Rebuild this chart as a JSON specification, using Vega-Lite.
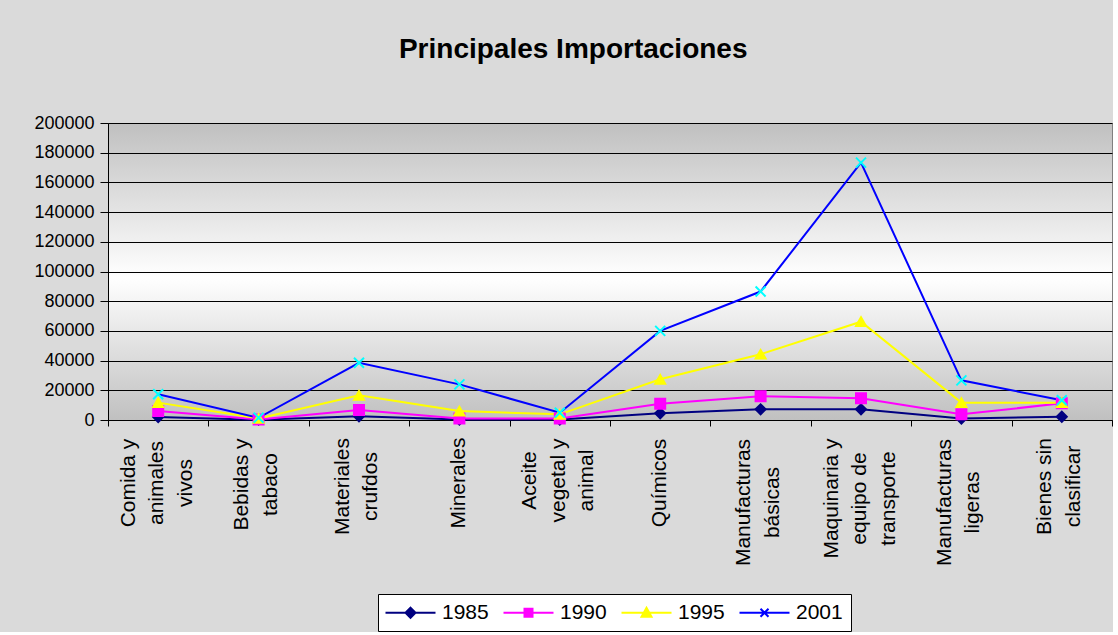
{
  "$schema": "https://vega.github.io/schema/vega-lite/v6.json",
  "width": 1004,
  "height": 297,
  "padding": {"left": 33, "top": 36, "right": 0, "bottom": 0},
  "background": "#dadada",
  "title": {
    "text": "Principales Importaciones",
    "font": "Liberation Sans",
    "fontSize": 28,
    "fontWeight": "bold",
    "color": "#000000",
    "anchor": "middle",
    "frame": "bounds",
    "offset": 50
  },
  "config": {
    "view": {
      "stroke": "#808080",
      "fill": {
        "gradient": "linear",
        "x1": 0, "y1": 0, "x2": 0, "y2": 1,
        "stops": [
          {"offset": 0, "color": "#c0c0c0"},
          {"offset": 0.52, "color": "#ffffff"},
          {"offset": 1, "color": "#c0c0c0"}
        ]
      }
    },
    "axis": {
      "labelFont": "Liberation Sans",
      "labelColor": "#000000",
      "domainColor": "#000000",
      "tickColor": "#000000",
      "gridColor": "#000000",
      "gridOpacity": 1,
      "title": null
    },
    "legend": {
      "labelFont": "Liberation Sans"
    }
  },
  "data": {
    "values": [
      {"cat": "Comida y animales vivos", "year": "1985", "value": 2000},
      {"cat": "Bebidas y tabaco", "year": "1985", "value": 200},
      {"cat": "Materiales crufdos", "year": "1985", "value": 2500},
      {"cat": "Minerales", "year": "1985", "value": 300},
      {"cat": "Aceite vegetal y animal", "year": "1985", "value": 300},
      {"cat": "Químicos", "year": "1985", "value": 4500},
      {"cat": "Manufacturas básicas", "year": "1985", "value": 7200},
      {"cat": "Maquinaria y equipo de transporte", "year": "1985", "value": 7200},
      {"cat": "Manufacturas ligeras", "year": "1985", "value": 1000},
      {"cat": "Bienes sin clasificar", "year": "1985", "value": 2200},
      {"cat": "Comida y animales vivos", "year": "1990", "value": 6000},
      {"cat": "Bebidas y tabaco", "year": "1990", "value": 400},
      {"cat": "Materiales crufdos", "year": "1990", "value": 6700},
      {"cat": "Minerales", "year": "1990", "value": 1000},
      {"cat": "Aceite vegetal y animal", "year": "1990", "value": 1000},
      {"cat": "Químicos", "year": "1990", "value": 11000},
      {"cat": "Manufacturas básicas", "year": "1990", "value": 16000},
      {"cat": "Maquinaria y equipo de transporte", "year": "1990", "value": 14600},
      {"cat": "Manufacturas ligeras", "year": "1990", "value": 3800},
      {"cat": "Bienes sin clasificar", "year": "1990", "value": 11200},
      {"cat": "Comida y animales vivos", "year": "1995", "value": 11700},
      {"cat": "Bebidas y tabaco", "year": "1995", "value": 1000},
      {"cat": "Materiales crufdos", "year": "1995", "value": 16600},
      {"cat": "Minerales", "year": "1995", "value": 6000},
      {"cat": "Aceite vegetal y animal", "year": "1995", "value": 3800},
      {"cat": "Químicos", "year": "1995", "value": 27400},
      {"cat": "Manufacturas básicas", "year": "1995", "value": 44300},
      {"cat": "Maquinaria y equipo de transporte", "year": "1995", "value": 66200},
      {"cat": "Manufacturas ligeras", "year": "1995", "value": 11700},
      {"cat": "Bienes sin clasificar", "year": "1995", "value": 11700},
      {"cat": "Comida y animales vivos", "year": "2001", "value": 17300},
      {"cat": "Bebidas y tabaco", "year": "2001", "value": 1500},
      {"cat": "Materiales crufdos", "year": "2001", "value": 38500},
      {"cat": "Minerales", "year": "2001", "value": 24000},
      {"cat": "Aceite vegetal y animal", "year": "2001", "value": 4900},
      {"cat": "Químicos", "year": "2001", "value": 60000},
      {"cat": "Manufacturas básicas", "year": "2001", "value": 86500},
      {"cat": "Maquinaria y equipo de transporte", "year": "2001", "value": 173300},
      {"cat": "Manufacturas ligeras", "year": "2001", "value": 26700},
      {"cat": "Bienes sin clasificar", "year": "2001", "value": 13300}
    ]
  },
  "encoding": {
    "x": {
      "field": "cat",
      "type": "nominal",
      "sort": null,
      "scale": {"type": "band", "paddingInner": 0, "paddingOuter": 0},
      "axis": {
        "labelAngle": -90,
        "labelAlign": "center",
        "labelFontSize": 21,
        "labelLineHeight": 28.5,
        "tickSize": 6,
        "tickBand": "extent",
        "grid": false,
        "labelPadding": {
          "condition": [
            {"test": "indexof(['Manufacturas básicas','Manufacturas ligeras'], datum.value) >= 0", "value": 76},
            {"test": "datum.value === 'Maquinaria y equipo de transporte'", "value": 72},
            {"test": "datum.value === 'Aceite vegetal y animal'", "value": 54},
            {"test": "indexof(['Materiales crufdos','Bienes sin clasificar'], datum.value) >= 0", "value": 60},
            {"test": "datum.value === 'Bebidas y tabaco'", "value": 58}
          ],
          "value": 56.5
        },
        "labelOffset": {
          "condition": [
            {"test": "indexof(['Comida y animales vivos','Aceite vegetal y animal','Maquinaria y equipo de transporte'], datum.value) >= 0", "value": -30},
            {"test": "indexof(['Minerales','Químicos'], datum.value) >= 0", "value": -1}
          ],
          "value": -17
        },
        "labelExpr": "{'Comida y animales vivos': ['Comida y','animales','vivos'], 'Bebidas y tabaco': ['Bebidas y','tabaco'], 'Materiales crufdos': ['Materiales','crufdos'], 'Minerales': 'Minerales', 'Aceite vegetal y animal': ['Aceite','vegetal y','animal'], 'Químicos': 'Químicos', 'Manufacturas básicas': ['Manufacturas','básicas'], 'Maquinaria y equipo de transporte': ['Maquinaria y','equipo de','transporte'], 'Manufacturas ligeras': ['Manufacturas','ligeras'], 'Bienes sin clasificar': ['Bienes sin','clasificar']}[datum.label]"
      }
    },
    "y": {
      "field": "value",
      "type": "quantitative",
      "scale": {"domain": [0, 200000], "nice": false},
      "axis": {
        "values": [0, 20000, 40000, 60000, 80000, 100000, 120000, 140000, 160000, 180000, 200000],
        "format": "d",
        "labelFontSize": 18,
        "tickSize": 8,
        "labelPadding": 6,
        "grid": true
      }
    }
  },
  "layer": [
    {
      "mark": {"type": "line", "strokeWidth": 2},
      "encoding": {
        "color": {
          "field": "year",
          "type": "nominal",
          "scale": {"domain": ["1985", "1990", "1995", "2001"], "range": ["#000080", "#ff00ff", "#ffff00", "#0000ff"]},
          "legend": null
        }
      }
    },
    {
      "mark": {"type": "point", "filled": true, "size": 100, "strokeWidth": 2, "opacity": 1},
      "encoding": {
        "shape": {
          "field": "year",
          "type": "nominal",
          "scale": {"domain": ["1985", "1990", "1995", "2001"], "range": ["diamond", "square", "triangle-up", "M-1,-1L1,1M-1,1L1,-1"]},
          "legend": null
        },
        "fill": {
          "field": "year",
          "type": "nominal",
          "scale": {"domain": ["1985", "1990", "1995", "2001"], "range": ["#000080", "#ff00ff", "#ffff00", "transparent"]},
          "legend": null
        },
        "stroke": {
          "field": "year",
          "type": "nominal",
          "scale": {"domain": ["1985", "1990", "1995", "2001"], "range": ["#000080", "#ff00ff", "#ffff00", "#00ffff"]},
          "legend": null
        }
      }
    },
    {
      "mark": {"type": "point", "filled": true, "size": 100, "strokeWidth": 2, "opacity": 0},
      "encoding": {
        "shape": {
          "field": "year",
          "type": "nominal",
          "title": null,
          "scale": {"domain": ["1985", "1990", "1995", "2001"], "range": [
            "M-2.2,0H7.8M2.8,-1L3.8,0L2.8,1L1.8,0Z",
            "M-2.2,0H7.8M2,-0.8H3.6V0.8H2Z",
            "M-2.2,0H7.8M2.8,-1L3.8,0.8H1.8Z",
            "M-2.2,0H7.8M2,-0.8L3.6,0.8M2,0.8L3.6,-0.8"
          ]},
          "legend": {
            "orient": "none",
            "direction": "horizontal",
            "legendX": 270,
            "legendY": 471,
            "fillColor": "#ffffff",
            "strokeColor": "#000000",
            "padding": 8,
            "labelFontSize": 21,
            "labelColor": "#000000",
            "labelOffset": 35,
            "columnPadding": 10,
            "symbolSize": 100,
            "symbolStrokeWidth": 2,
            "symbolOpacity": 1
          }
        },
        "fill": {
          "field": "year",
          "type": "nominal",
          "title": null,
          "scale": {"domain": ["1985", "1990", "1995", "2001"], "range": ["#000080", "#ff00ff", "#ffff00", "#0000ff"]}
        },
        "stroke": {
          "field": "year",
          "type": "nominal",
          "title": null,
          "scale": {"domain": ["1985", "1990", "1995", "2001"], "range": ["#000080", "#ff00ff", "#ffff00", "#0000ff"]}
        }
      }
    }
  ],
  "resolve": {"scale": {"shape": "independent", "fill": "independent", "stroke": "independent", "color": "independent"}}
}
